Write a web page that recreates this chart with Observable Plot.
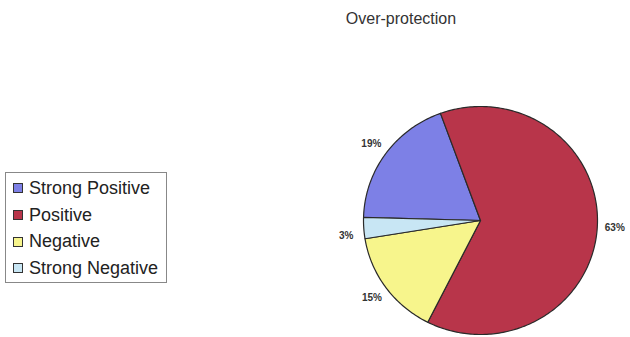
<!DOCTYPE html>
<html>
<head>
<meta charset="utf-8">
<script src="https://cdn.jsdelivr.net/npm/d3@7"></script>
<script src="https://cdn.jsdelivr.net/npm/@observablehq/plot@0.6"></script>
<style>
  html, body { margin: 0; padding: 0; background: #fff; }
  #wrap { position: relative; width: 630px; height: 337px; overflow: hidden; font-family: "Liberation Sans", Arial, sans-serif; }
  #title { position: absolute; left: 0; top: 10px; width: 802px; text-align: center; font-size: 16px; color: #333; }
  #legend { position: absolute; left: 5px; top: 172px; width: 162px; height: 111px; border: 1px solid #888; box-sizing: border-box; padding: 2px 0 0 7px; }
  .item { display: flex; align-items: center; height: 26.7px; font-size: 18px; color: #222; white-space: nowrap; }
  .sw { width: 8px; height: 8px; border: 1px solid #333; margin-right: 6px; flex: none; }
  #chart { position: absolute; left: 0; top: 0; }
</style>
</head>
<body>
<div id="wrap">
  <div id="title"></div>
  <div id="legend"></div>
  <div id="chart"></div>
</div>
<script>
const title = "Over-protection";
const categories = ["Strong Positive", "Positive", "Negative", "Strong Negative"];
const values = [19, 63, 15, 3];
const labels = ["19%", "63%", "15%", "3%"];
const colors = ["#7d80e6", "#b8354a", "#f7f58c", "#c8e6f4"];

document.getElementById("title").textContent = title;

const legend = document.getElementById("legend");
categories.forEach((c, i) => {
  const it = document.createElement("div");
  it.className = "item";
  const sw = document.createElement("span");
  sw.className = "sw";
  sw.style.background = colors[i];
  it.appendChild(sw);
  it.appendChild(document.createTextNode(c));
  legend.appendChild(it);
});

// pie layout: Strong Positive ends at -20° (clockwise from 12 o'clock)
const total = d3.sum(values);
const startDeg = -20 - values[0] / total * 360;
const pie = d3.pie().sort(null).value(d => d.value)
  .startAngle(startDeg * Math.PI / 180)
  .endAngle((startDeg + 360) * Math.PI / 180);
const arcs = pie(categories.map((c, i) => ({cat: c, value: values[i], label: labels[i]})));

const pts = [];
arcs.forEach(a => {
  pts.push({cat: a.data.cat, x: 0, y: 0});
  const n = Math.max(2, Math.ceil((a.endAngle - a.startAngle) * 180 / Math.PI));
  for (let k = 0; k <= n; k++) {
    const t = a.startAngle + (a.endAngle - a.startAngle) * k / n;
    pts.push({cat: a.data.cat, x: Math.sin(t), y: Math.cos(t)});
  }
  pts.push({cat: a.data.cat, x: 0, y: 0});
});
const lab = arcs.map(a => {
  const m = (a.startAngle + a.endAngle) / 2;
  return {label: a.data.label, x: 1.15 * Math.sin(m), y: 1.15 * Math.cos(m) - (a.data.label === "3%" ? 0.06 : 0)};
});

const chart = Plot.plot({
  width: 630,
  height: 337,
  marginLeft: 363,
  marginRight: 33,
  marginTop: 106,
  marginBottom: 3,
  x: {domain: [-1, 1], axis: null},
  y: {domain: [-1, 1], axis: null},
  color: {domain: categories, range: colors},
  style: {background: "transparent", overflow: "visible"},
  marks: [
    Plot.line(pts, {x: "x", y: "y", z: "cat", fill: "cat", stroke: "#2a2a2a", strokeWidth: 1.2, strokeLinejoin: "round", curve: "linear"}),
    Plot.text(lab, {x: "x", y: "y", text: "label", fontSize: 10, fontWeight: "bold", fill: "#333", fontFamily: "Liberation Sans, Arial, sans-serif"})
  ]
});
document.getElementById("chart").appendChild(chart);
</script>
</body>
</html>
